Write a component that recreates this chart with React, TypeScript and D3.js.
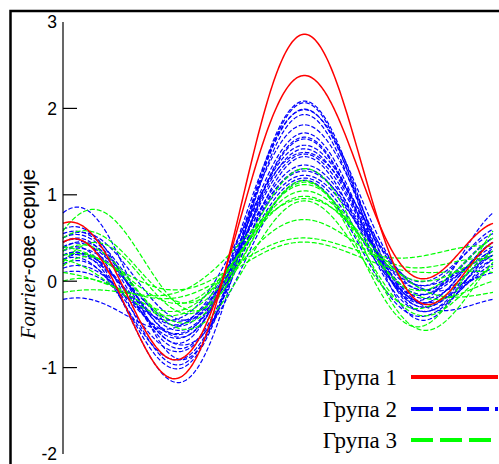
import React from "react";
import * as d3 from "d3";

// Andrews-curve observations: [x1, x2, x3, x4, x5]
// f(t) = x1/√2 + x2·sin t + x3·cos t + x4·sin 2t + x5·cos 2t
const group1: number[][] = [
  [0.788, 0.785, 1.0, 0.63, 0.893],
  [0.82, 0.7, 0.69, 0.487, 0.78],
];

const group2: number[][] = [
  [0.664, 0.519, 0.48, 0.575, 0.801],
  [0.348, 0.606, 0.685, 0.561, 0.789],
  [0.69, 0.526, 0.55, 0.452, 0.662],
  [0.373, 0.567, 0.66, 0.489, 0.697],
  [0.617, 0.448, 0.525, 0.425, 0.589],
  [0.431, 0.435, 0.475, 0.451, 0.62],
  [0.296, 0.504, 0.565, 0.415, 0.606],
  [0.6, 0.399, 0.4, 0.361, 0.526],
  [0.397, 0.411, 0.5, 0.375, 0.519],
  [0.452, 0.364, 0.425, 0.372, 0.505],
  [0.222, 0.414, 0.5, 0.397, 0.543],
  [0.444, 0.328, 0.4, 0.322, 0.436],
  [0.267, 0.353, 0.475, 0.326, 0.436],
  [0.376, 0.356, 0.375, 0.267, 0.409],
  [0.18, 0.359, 0.655, 0.256, 0.318],
  [0.417, 0.239, 0.25, 0.36, 0.456],
  [0.14, 0.298, 0.35, 0.392, 0.501],
  [0.451, 0.388, 0.6, 0.282, 0.381],
  [0.488, 0.575, 0.615, 0.494, 0.72],
  [0.476, 0.378, 0.535, 0.468, 0.579],
];

const group3: number[][] = [
  [0.4, -0.019, 0.19, 0.52, 0.489],
  [0.309, 0.088, 0.43, 0.495, 0.431],
  [0.222, 0.198, 0.385, 0.381, 0.408],
  [0.244, 0.245, 0.45, 0.236, 0.278],
  [0.287, 0.196, 0.49, 0.162, 0.157],
  [0.392, 0.229, 0.275, 0.217, 0.298],
  [0.25, 0.318, 0.185, 0.087, 0.258],
  [0.364, 0.189, 0.025, 0.041, 0.168],
  [0.168, 0.187, 0.15, 0.043, 0.132],
  [0.176, 0.199, 0.2, 0.344, 0.426],
  [0.486, 0.162, 0.225, 0.333, 0.382],
];

const groupLabels = ["Група 1", "Група 2", "Група 3"];
const yTicks = [-2, -1, 0, 1, 2, 3];
const yMajorMarks = [-1, 0, 1, 2];

const W = 499;
const H = 464;

const x = d3.scaleLinear().domain([-Math.PI, Math.PI]).range([63, 493]);
const y = d3.scaleLinear().domain([-2, 3]).range([454, 22]);

const tSamples = d3.range(0, 301).map((i) => -Math.PI + (2 * Math.PI * i) / 300);

function andrews(row: number[], t: number) {
  return (
    row[0] / Math.SQRT2 +
    row[1] * Math.sin(t) +
    row[2] * Math.cos(t) +
    row[3] * Math.sin(2 * t) +
    row[4] * Math.cos(2 * t)
  );
}

const line = d3
  .line<number>()
  .x((t) => x(t))
  .curve(d3.curveLinear);

function pathFor(row: number[]) {
  return line.y((t) => y(andrews(row, t)))(tSamples) || "";
}

const styles = [
  { color: "#ff0000", dash: undefined as string | undefined, width: 1.5, legendDash: undefined as string | undefined },
  { color: "#0000ff", dash: "4.5,2", width: 1.2, legendDash: "22,6" },
  { color: "#00ff00", dash: "5,2", width: 1.2, legendDash: "22,7" },
];

export default function App() {
  const sans = "'Liberation Sans', Arial, sans-serif";
  const serif = "'Liberation Serif', 'Times New Roman', serif";
  const groups = [group1, group2, group3];
  const drawOrder = [1, 2, 0];
  return (
    <svg
      width={W}
      height={H}
      style={{ position: "absolute", left: 0, top: 0, background: "#fff" }}
    >
      <rect x={0} y={0} width={W} height={H} fill="#fff" />
      {/* frame */}
      <rect x={10.5} y={11} width={W + 20} height={H + 20} fill="none" stroke="#000" strokeWidth={2.5} />
      {/* curves */}
      {drawOrder.map((g) => (
        <g key={g}>
          {groups[g].map((row, i) => (
            <path
              key={i}
              d={pathFor(row)}
              fill="none"
              stroke={styles[g].color}
              strokeWidth={styles[g].width}
              strokeDasharray={styles[g].dash}
            />
          ))}
        </g>
      ))}
      {/* y axis */}
      <line x1={x(-Math.PI)} x2={x(-Math.PI)} y1={y(3)} y2={y(-2)} stroke="#000" strokeWidth={1.2} />
      {yMajorMarks.map((v) => (
        <line key={v} x1={x(-Math.PI)} x2={x(-Math.PI) + 14} y1={y(v)} y2={y(v)} stroke="#000" strokeWidth={1.2} />
      ))}
      {yTicks.map((v) => (
        <text
          key={v}
          x={57}
          y={y(v)}
          dy="0.36em"
          textAnchor="end"
          fontFamily={sans}
          fontSize={17.5}
          fill="#000"
        >
          {v}
        </text>
      ))}
      {/* y title */}
      <text transform="translate(35,254) rotate(-90)" textAnchor="middle" fontSize={20.5} fill="#000">
        <tspan fontFamily={serif} fontStyle="italic">Fourier</tspan>
        <tspan fontFamily={sans}>-ове серије</tspan>
      </text>
      {/* legend */}
      {groupLabels.map((lab, i) => {
        const ly = [377, 409, 440][i];
        return (
          <g key={lab}>
            <text x={397} y={ly} dy="0.33em" textAnchor="end" fontFamily={serif} fontSize={23} fill="#000">
              {lab}
            </text>
            <line
              x1={411}
              x2={498}
              y1={ly}
              y2={ly}
              stroke={styles[i].color}
              strokeWidth={4}
              strokeDasharray={styles[i].legendDash}
            />
          </g>
        );
      })}
    </svg>
  );
}
